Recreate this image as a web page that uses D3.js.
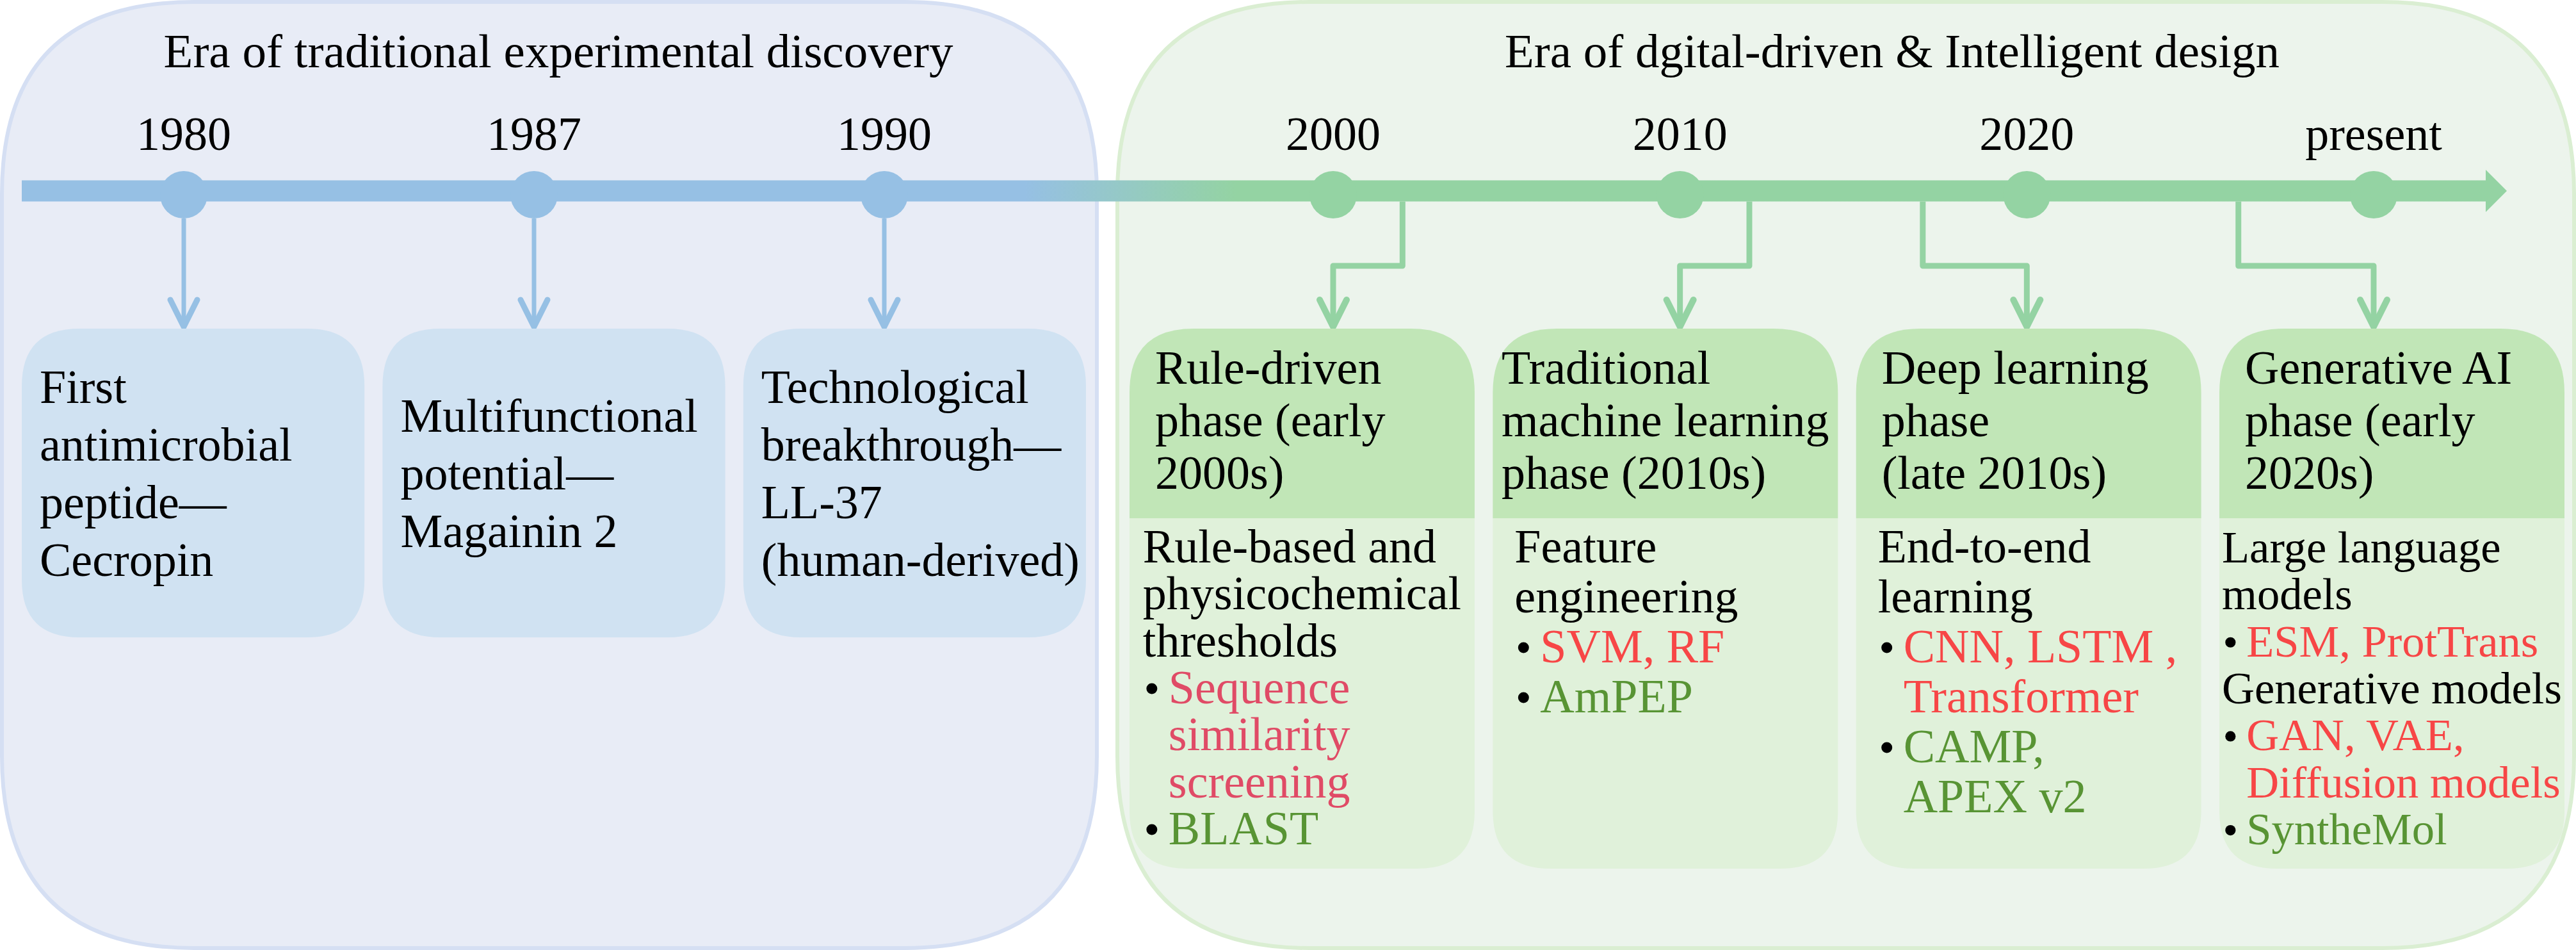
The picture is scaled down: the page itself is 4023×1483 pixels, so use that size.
<!DOCTYPE html>
<html>
<head>
<meta charset="utf-8">
<script src="https://cdn.jsdelivr.net/npm/d3@7"></script>
<style>
  body { margin: 0; background: #fff; }
  svg text { font-family: "Liberation Serif", "Times New Roman", serif; }
</style>
</head>
<body>
<svg id="chart"></svg>
<script>
var W = 4023, H = 1483;

// ---- data ----
var eraTitles = ['Era of traditional experimental discovery', 'Era of dgital-driven & Intelligent design'];
var earlyYears = ['1980', '1987', '1990'];
var lateYears = ['2000', '2010', '2020', 'present'];

var milestones = [
    ['First', 'antimicrobial', 'peptide\u2014', 'Cecropin'],
    ['Multifunctional', 'potential\u2014', 'Magainin 2'],
    ['Technological', 'breakthrough\u2014', 'LL-37', '(human-derived)']
];

var phaseTitles = [
    ['Rule-driven', 'phase (early', '2000s)'],
    ['Traditional', 'machine learning', 'phase (2010s)'],
    ['Deep learning', 'phase', '(late 2010s)'],
    ['Generative AI', 'phase (early', '2020s)']
];

// [kind, colour, text]  kind: t = plain line, b = bullet, c = bullet continued
var phaseNotes = [
    [['t', 'ink', 'Rule-based and'], ['t', 'ink', 'physicochemical'], ['t', 'ink', 'thresholds'],
     ['b', 'pink', 'Sequence'], ['c', 'pink', 'similarity'], ['c', 'pink', 'screening'],
     ['b', 'leaf', 'BLAST']],
    [['t', 'ink', 'Feature'], ['t', 'ink', 'engineering'],
     ['b', 'red', 'SVM, RF'], ['b', 'leaf', 'AmPEP']],
    [['t', 'ink', 'End-to-end'], ['t', 'ink', 'learning'],
     ['b', 'red', 'CNN, LSTM ,'], ['c', 'red', 'Transformer'],
     ['b', 'leaf', 'CAMP,'], ['c', 'leaf', 'APEX v2']],
    [['t', 'ink', 'Large language'], ['t', 'ink', 'models'],
     ['b', 'red', 'ESM, ProtTrans'], ['t', 'ink', 'Generative models'],
     ['b', 'red', 'GAN, VAE,'], ['c', 'red', 'Diffusion models'],
     ['b', 'leaf', 'SyntheMol']]
];

// ---- styles ----
var colors = {
    ink: '#000000', pink: '#E04B66', red: '#F74646', leaf: '#589434',
    blue: '#96C0E4', green: '#94D3A3',
    bluePanel: '#E8ECF6', blueEdge: '#D5DFF3', blueBox: '#D0E2F2',
    greenPanel: '#ECF4EC', greenEdge: '#DAEED2', greenHead: '#C1E6B7', greenBody: '#E0F1DA'
};
var FS = 74;

var svg = d3.select('#chart').attr('width', W).attr('height', H);
svg.append('rect').attr('width', W).attr('height', H).attr('fill', '#fff');

var grad = svg.append('defs').append('linearGradient')
    .attr('id', 'barGrad').attr('gradientUnits', 'userSpaceOnUse')
    .attr('x1', 1600).attr('x2', 1930).attr('y1', 0).attr('y2', 0);
grad.append('stop').attr('offset', 0).attr('stop-color', colors.blue);
grad.append('stop').attr('offset', 1).attr('stop-color', colors.green);

// rounded rect with separate top / bottom radii
function roundBox(x, y, w, h, rt, rb) {
    var p = d3.path();
    p.moveTo(x + rt, y);
    p.lineTo(x + w - rt, y);
    if (rt) p.quadraticCurveTo(x + w, y, x + w, y + rt);
    p.lineTo(x + w, y + h - rb);
    if (rb) p.quadraticCurveTo(x + w, y + h, x + w - rb, y + h);
    p.lineTo(x + rb, y + h);
    if (rb) p.quadraticCurveTo(x, y + h, x, y + h - rb);
    p.lineTo(x, y + rt);
    if (rt) p.quadraticCurveTo(x, y, x + rt, y);
    p.closePath();
    return p.toString();
}

// ---- era panels ----
var panels = [
    {x: 3, w: 1710, fill: colors.bluePanel, edge: colors.blueEdge, tx: 872},
    {x: 1745, w: 2275, fill: colors.greenPanel, edge: colors.greenEdge, tx: 2955}
];
svg.selectAll('.panel').data(panels).enter().append('path')
    .attr('class', 'panel')
    .attr('d', function(d) { return roundBox(d.x, 3, d.w, 1477, 300, 300); })
    .attr('fill', function(d) { return d.fill; })
    .attr('stroke', function(d) { return d.edge; })
    .attr('stroke-width', 6);

svg.selectAll('.era').data(eraTitles).enter().append('text')
    .attr('class', 'era')
    .attr('x', function(d, i) { return panels[i].tx; })
    .attr('y', 105)
    .attr('text-anchor', 'middle')
    .attr('font-size', 75)
    .text(function(d) { return d; });

// ---- scales ----
var xEarly = d3.scalePoint().domain(earlyYears).range([287, 1381]);
var xLate = d3.scalePoint().domain(lateYears).range([2082, 3707]);
var boxEarly = d3.scaleBand().domain(earlyYears).range([34, 1696]).paddingInner(0.05);
var boxLate = d3.scaleBand().domain(lateYears).range([1764, 4005]).paddingInner(0.05);

var barY = 298, barHalf = 16.5, dotY = 304, dotR = 37;
var boxTop = 513;

// ---- timeline bar ----
var barEnd = 3882;
svg.append('path')
    .attr('d', 'M34,' + (barY - barHalf) + 'H' + barEnd + 'V' + (barY - 33) +
        'L' + (barEnd + 33) + ',' + barY + 'L' + barEnd + ',' + (barY + 33) +
        'V' + (barY + barHalf) + 'H34Z')
    .attr('fill', 'url(#barGrad)');

// ---- early era ----
var early = svg.append('g');
early.selectAll('circle').data(earlyYears).enter().append('circle')
    .attr('cx', function(d) { return xEarly(d); })
    .attr('cy', dotY).attr('r', dotR)
    .attr('fill', colors.blue);

early.selectAll('.yr').data(earlyYears).enter().append('text')
    .attr('class', 'yr')
    .attr('x', function(d) { return xEarly(d); })
    .attr('y', 234)
    .attr('text-anchor', 'middle')
    .attr('font-size', FS)
    .text(function(d) { return d; });

function chevron(x, tip) {
    return 'M' + (x - 21) + ',' + (tip - 42) + 'L' + x + ',' + tip + 'L' + (x + 21) + ',' + (tip - 42);
}

early.selectAll('.stem').data(earlyYears).enter().append('path')
    .attr('class', 'stem')
    .attr('d', function(d) { var x = xEarly(d); return 'M' + x + ',' + (dotY + dotR) + 'V' + (boxTop - 4); })
    .attr('stroke', colors.blue).attr('stroke-width', 7).attr('fill', 'none');
early.selectAll('.head').data(earlyYears).enter().append('path')
    .attr('class', 'head')
    .attr('d', function(d) { return chevron(xEarly(d), boxTop - 3); })
    .attr('stroke', colors.blue).attr('stroke-width', 9)
    .attr('stroke-linecap', 'round').attr('stroke-linejoin', 'round').attr('fill', 'none');

var eBoxH = 482;
early.selectAll('.mbox').data(earlyYears).enter().append('path')
    .attr('class', 'mbox')
    .attr('d', function(d) { return roundBox(boxEarly(d), boxTop, boxEarly.bandwidth(), eBoxH, 90, 90); })
    .attr('fill', colors.blueBox);

early.selectAll('.mtext').data(milestones).enter().append('text')
    .attr('class', 'mtext')
    .attr('font-size', FS)
    .each(function(lines, i) {
        var x0 = boxEarly(earlyYears[i]) + 28;
        var y0 = boxTop + eBoxH / 2 + 10 - (lines.length - 1) * 45;
        d3.select(this).selectAll('tspan').data(lines).enter().append('tspan')
            .attr('x', x0)
            .attr('y', function(d, j) { return y0 + j * 90; })
            .text(function(d) { return d; });
    });

// ---- late era ----
var late = svg.append('g');
late.selectAll('circle').data(lateYears).enter().append('circle')
    .attr('cx', function(d) { return xLate(d); })
    .attr('cy', dotY).attr('r', dotR)
    .attr('fill', colors.green);

late.selectAll('.yr').data(lateYears).enter().append('text')
    .attr('class', 'yr')
    .attr('x', function(d) { return xLate(d); })
    .attr('y', 234)
    .attr('text-anchor', 'middle')
    .attr('font-size', FS)
    .text(function(d) { return d; });

// elbow connectors leave the bar beside the dot, then step to the box
var elbowShift = [0.2, 0.2, -0.3, -0.39];
var elbowY = 415;
late.selectAll('.elbow').data(lateYears).enter().append('path')
    .attr('class', 'elbow')
    .attr('d', function(d, i) {
        var x = xLate(d), xs = x + elbowShift[i] * xLate.step();
        return 'M' + xs + ',' + (barY + barHalf) + 'V' + elbowY + 'H' + x + 'V' + (boxTop - 4);
    })
    .attr('stroke', colors.green).attr('stroke-width', 9).attr('fill', 'none')
    .attr('stroke-linejoin', 'round');
late.selectAll('.head').data(lateYears).enter().append('path')
    .attr('class', 'head')
    .attr('d', function(d) { return chevron(xLate(d), boxTop - 3); })
    .attr('stroke', colors.green).attr('stroke-width', 10)
    .attr('stroke-linecap', 'round').attr('stroke-linejoin', 'round').attr('fill', 'none');

var headBottom = 809, lBoxBottom = 1356;
late.selectAll('.pbody').data(lateYears).enter().append('path')
    .attr('class', 'pbody')
    .attr('d', function(d) { return roundBox(boxLate(d), headBottom, boxLate.bandwidth(), lBoxBottom - headBottom, 0, 90); })
    .attr('fill', colors.greenBody);
late.selectAll('.phead').data(lateYears).enter().append('path')
    .attr('class', 'phead')
    .attr('d', function(d) { return roundBox(boxLate(d), boxTop, boxLate.bandwidth(), headBottom - boxTop, 100, 0); })
    .attr('fill', colors.greenHead);

// phase titles, centred on the header band
late.selectAll('.ptitle').data(phaseTitles).enter().append('text')
    .attr('class', 'ptitle')
    .attr('font-size', FS)
    .each(function(lines, i) {
        var t = d3.select(this), left = boxLate(lateYears[i]), bw = boxLate.bandwidth();
        var spans = t.selectAll('tspan').data(lines).enter().append('tspan')
            .attr('y', function(d, j) { return 681 + (j - (lines.length - 1) / 2) * 82; })
            .text(function(d) { return d; });
        var maxW = 0;
        spans.each(function() { maxW = Math.max(maxW, this.getComputedTextLength()); });
        var pad = Math.min(40, Math.max(4, (bw - maxW) / 2));
        spans.attr('x', left + pad);
    });

// phase notes with bullets
var bulletGap = 40;
late.selectAll('.pnote').data(phaseNotes).enter().append('g')
    .attr('class', 'pnote')
    .each(function(lines, i) {
        var g = d3.select(this), left = boxLate(lateYears[i]), bw = boxLate.bandwidth();
        var step = Math.min(78, (1318 - 878) / (lines.length - 1));
        var txt = g.append('text').attr('font-size', FS);
        var spans = txt.selectAll('tspan').data(lines).enter().append('tspan')
            .attr('y', function(d, j) { return 878 + j * step; })
            .attr('fill', function(d) { return colors[d[1]]; })
            .text(function(d) { return d[2]; });
        var maxW = 0;
        spans.each(function(d) {
            maxW = Math.max(maxW, this.getComputedTextLength() + (d[0] === 't' ? 0 : bulletGap));
        });
        var fs = FS;
        if (maxW > bw - 8) { fs = FS * (bw - 8) / maxW; maxW = bw - 8; txt.attr('font-size', fs); }
        var x0 = left + Math.min(34, Math.max(2, (bw - maxW) / 2));
        var k = fs / FS;
        spans.attr('x', function(d) { return d[0] === 't' ? x0 : x0 + bulletGap * k; });
        g.selectAll('circle').data(lines.map(function(d, j) { return [d, j]; })
                .filter(function(d) { return d[0][0] === 'b'; }))
            .enter().append('circle')
            .attr('cx', x0 + 14 * k)
            .attr('cy', function(d) { return 878 + d[1] * step - 23 * k; })
            .attr('r', 8.5 * k)
            .attr('fill', colors.ink);
    });
</script>
</body>
</html>
